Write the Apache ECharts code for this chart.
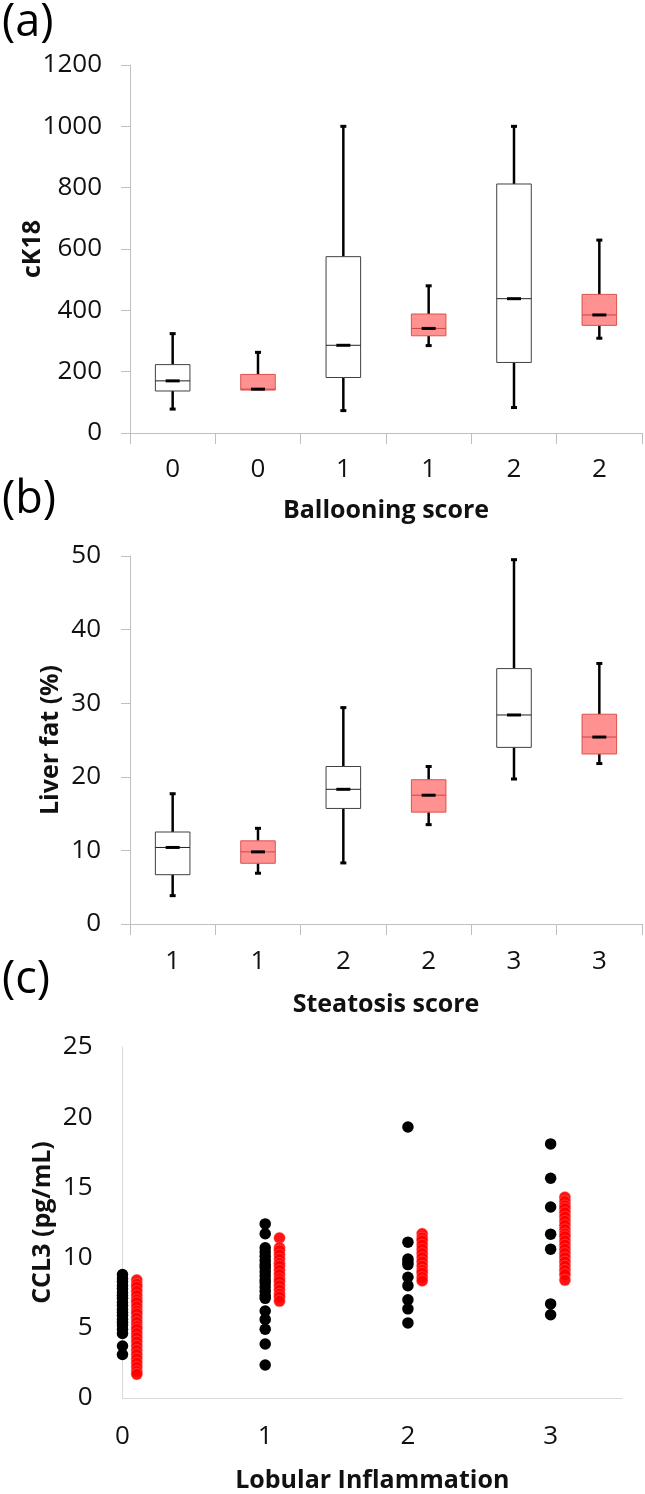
<!DOCTYPE html>
<html>
<head>
<meta charset="utf-8">
<script src="https://cdn.jsdelivr.net/npm/echarts@6/dist/echarts.min.js"></script>
<style>
html,body{margin:0;padding:0;background:#fff;}
#chart{width:645px;height:1494px;}
</style>
</head>
<body>
<div id="chart"></div>
<script>
// ---------- DATA ----------
// Panel (a): cK18 by ballooning score, [min, q1, median, q3, max]
const ballooningCats = ['0', '0', '1', '1', '2', '2'];
const ck18Stats = [
  [78, 137, 170, 223, 324],
  [140, 140, 143, 191, 263],
  [73, 181, 286, 575, 1000],
  [285, 317, 341, 388, 480],
  [83, 230, 438, 812, 1000],
  [309, 351, 385, 452, 629]
];
const ck18Ticks = [0, 200, 400, 600, 800, 1000, 1200];

// Panel (b): liver fat by steatosis score, [min, q1, median, q3, max]
const steatosisCats = ['1', '1', '2', '2', '3', '3'];
const liverFatStats = [
  [3.85, 6.7, 10.4, 12.5, 17.7],
  [6.9, 8.25, 9.8, 11.3, 13.0],
  [8.3, 15.7, 18.3, 21.4, 29.4],
  [13.5, 15.2, 17.5, 19.6, 21.4],
  [19.7, 24.0, 28.4, 34.7, 49.5],
  [21.8, 23.1, 25.4, 28.5, 35.4]
];
const liverFatTicks = [0, 10, 20, 30, 40, 50];

// Panel (c): CCL3 by lobular inflammation
const inflammationLevels = [0, 1, 2, 3];
const redOffset = 0.1;
const ccl3Black = [
  [8.8, 8.5, 8.3, 8.0, 7.8, 7.5, 7.3, 7.1, 6.8, 6.6, 6.3, 6.1, 5.9, 5.6, 5.4, 5.2, 4.9, 4.6, 3.7, 3.1],
  [12.4, 11.7, 10.7, 10.4, 10.1, 9.8, 9.5, 9.3, 9.0, 8.7, 8.4, 8.2, 7.9, 7.6, 7.3, 7.1, 6.2, 5.6, 4.9, 3.85, 2.35],
  [19.3, 11.1, 9.9, 9.7, 9.5, 8.6, 8.0, 7.0, 6.35, 5.35],
  [18.1, 15.65, 13.6, 11.67, 10.6, 6.7, 5.93]
];
const ccl3Red = [
  [8.4, 8.1, 7.9, 7.6, 7.3, 7.0, 6.8, 6.5, 6.2, 6.0, 5.7, 5.4, 5.1, 4.9, 4.6, 4.3, 4.0, 3.7, 3.4, 3.1, 2.8, 2.5, 2.2, 1.9, 1.7],
  [11.4, 10.7, 10.5, 10.2, 9.9, 9.6, 9.4, 9.1, 8.8, 8.5, 8.3, 8.0, 7.7, 7.4, 7.2, 6.9],
  [11.7, 11.4, 11.2, 10.9, 10.6, 10.3, 10.0, 9.7, 9.4, 9.1, 8.9, 8.6, 8.35],
  [14.3, 14.0, 13.7, 13.5, 13.2, 12.9, 12.6, 12.3, 12.0, 11.7, 11.5, 11.2, 10.9, 10.6, 10.3, 10.0, 9.7, 9.4, 9.1, 8.8, 8.4]
];
const ccl3Ticks = [0, 5, 10, 15, 20, 25];

// ---------- BUILD ----------
const FONT = '"Open Sans", "Noto Sans", sans-serif';
const AXIS_GRAY = '#bfbfbf';
const TICK_FS = 26;
const TITLE_FS = 25;

function boxRows(stats) {
  return stats.map((s, i) => [i].concat(s));
}

function renderBox(params, api) {
  const i = api.value(0);
  const pMin = api.coord([i, api.value(1)]);
  const pQ1 = api.coord([i, api.value(2)]);
  const pMed = api.coord([i, api.value(3)]);
  const pQ3 = api.coord([i, api.value(4)]);
  const pMax = api.coord([i, api.value(5)]);
  const bw = api.size([1, 0])[0] * 0.405;
  const x = pMed[0];
  const red = i % 2 === 1;
  const fill = red ? '#ff9191' : '#ffffff';
  const stroke = red ? '#d9534f' : '#404040';
  const medColor = red ? '#d04444' : '#202020';
  const ch = [];
  if (pMax[1] < pQ3[1]) {
    ch.push({type: 'line', shape: {x1: x, y1: pMax[1], x2: x, y2: pQ3[1]}, style: {stroke: '#000', lineWidth: 2.5}});
    ch.push({type: 'line', shape: {x1: x - 3, y1: pMax[1], x2: x + 3, y2: pMax[1]}, style: {stroke: '#000', lineWidth: 3}});
  }
  if (pMin[1] > pQ1[1]) {
    ch.push({type: 'line', shape: {x1: x, y1: pQ1[1], x2: x, y2: pMin[1]}, style: {stroke: '#000', lineWidth: 2.5}});
    ch.push({type: 'line', shape: {x1: x - 3, y1: pMin[1], x2: x + 3, y2: pMin[1]}, style: {stroke: '#000', lineWidth: 3}});
  }
  ch.push({type: 'rect', shape: {x: x - bw / 2, y: pQ3[1], width: bw, height: pQ1[1] - pQ3[1]},
           style: {fill: fill, stroke: stroke, lineWidth: 1}});
  ch.push({type: 'line', shape: {x1: x - bw / 2, y1: pMed[1], x2: x + bw / 2, y2: pMed[1]}, style: {stroke: medColor, lineWidth: 1}});
  ch.push({type: 'rect', shape: {x: x - 7, y: pMed[1] - 1.5, width: 14, height: 3}, style: {fill: '#000'}});
  return {type: 'group', children: ch};
}

function catAxis(gridIndex, cats, name, labelMargin, nameGap) {
  return {
    type: 'category', gridIndex: gridIndex, data: cats,
    axisLine: {lineStyle: {color: AXIS_GRAY, width: 1}},
    axisTick: {show: true, length: 11, lineStyle: {color: AXIS_GRAY}},
    axisLabel: {color: '#111', fontSize: TICK_FS, fontFamily: FONT, margin: labelMargin},
    name: name, nameLocation: 'middle', nameGap: nameGap,
    nameTextStyle: {color: '#111', fontSize: TITLE_FS, fontWeight: 'bold', fontFamily: FONT}
  };
}

function valAxis(gridIndex, ticks, name, labelMargin, nameGap, showTicks, lineColor) {
  return {
    type: 'value', gridIndex: gridIndex,
    min: ticks[0], max: ticks[ticks.length - 1], interval: ticks[1] - ticks[0],
    splitLine: {show: false},
    axisLine: {show: true, lineStyle: {color: lineColor, width: 1}},
    axisTick: {show: showTicks, length: 9, lineStyle: {color: AXIS_GRAY}},
    axisLabel: {color: '#111', fontSize: TICK_FS, fontFamily: FONT, margin: labelMargin,
      formatter: v => String(v)},
    name: name, nameLocation: 'middle', nameGap: nameGap, nameRotate: 90,
    nameMoveOverlap: false,
    nameTextStyle: {color: '#111', fontSize: TITLE_FS, fontWeight: 'bold', fontFamily: FONT}
  };
}

const blackPts = [];
ccl3Black.forEach((vals, k) => vals.forEach(v => blackPts.push([inflammationLevels[k], v])));
const redPts = [];
ccl3Red.forEach((vals, k) => vals.forEach(v => redPts.push([inflammationLevels[k] + redOffset, v])));

const panelLabel = (txt, y) => ({
  type: 'text', left: 2, top: y,
  style: {text: txt, font: '45px ' + FONT, fill: '#000'}
});

const option = {
  animation: false,
  backgroundColor: '#fff',
  textStyle: {fontFamily: FONT},
  graphic: [panelLabel('(a)', 1), panelLabel('(b)', 478), panelLabel('(c)', 958)],
  grid: [
    {left: 130, top: 65, width: 512, height: 368},
    {left: 130, top: 556, width: 512, height: 368},
    {left: 122.5, top: 1047, width: 499.5, height: 356}
  ],
  xAxis: [
    catAxis(0, ballooningCats, 'Ballooning score', 24, 65),
    catAxis(1, steatosisCats, 'Steatosis score', 25, 68),
    {
      type: 'value', gridIndex: 2, min: 0, max: 3.5, interval: 1,
      splitLine: {show: false},
      axisLine: {show: true, lineStyle: {color: '#d9d9d9', width: 1}},
      axisTick: {show: false},
      axisLabel: {color: '#111', fontSize: TICK_FS, fontFamily: FONT, margin: 26, showMaxLabel: false,
        formatter: v => (Number.isInteger(v) ? String(v) : '')},
      name: 'Lobular Inflammation', nameLocation: 'middle', nameGap: 70,
      nameTextStyle: {color: '#111', fontSize: TITLE_FS, fontWeight: 'bold', fontFamily: FONT}
    }
  ],
  yAxis: [
    valAxis(0, ck18Ticks, 'cK18', 28, 85, true, AXIS_GRAY),
    valAxis(1, liverFatTicks, 'Liver fat (%)', 29, 67, true, AXIS_GRAY),
    valAxis(2, ccl3Ticks, 'CCL3 (pg/mL)', 30, 67, false, '#d9d9d9')
  ],
  series: [
    {type: 'custom', xAxisIndex: 0, yAxisIndex: 0, renderItem: renderBox,
     encode: {x: 0, y: [1, 2, 3, 4, 5]}, data: boxRows(ck18Stats)},
    {type: 'custom', xAxisIndex: 1, yAxisIndex: 1, renderItem: renderBox,
     encode: {x: 0, y: [1, 2, 3, 4, 5]}, data: boxRows(liverFatStats)},
    {type: 'scatter', xAxisIndex: 2, yAxisIndex: 2, data: blackPts, symbolSize: 11.5,
     itemStyle: {color: '#000', opacity: 1}},
    {type: 'scatter', xAxisIndex: 2, yAxisIndex: 2, data: redPts, symbolSize: 11.5,
     itemStyle: {color: '#ff0000', opacity: 0.92, borderColor: 'rgba(255,140,140,0.7)', borderWidth: 0.6}}
  ]
};

const chart = echarts.init(document.getElementById('chart'), null, {renderer: 'canvas'});
chart.setOption(option);
</script>
</body>
</html>
